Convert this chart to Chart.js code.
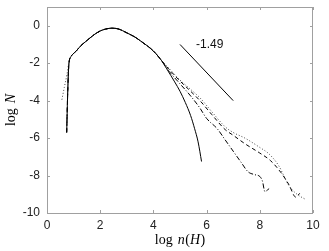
<!DOCTYPE html>
<html>
<head>
<meta charset="utf-8">
<script src="https://cdn.jsdelivr.net/npm/chart.js@4"></script>
<style>
  html, body { margin: 0; padding: 0; background: #fff; }
  #wrap { width: 329px; height: 251px; }
</style>
</head>
<body>
<div id="wrap"><canvas id="c" width="329" height="251"></canvas></div>
<script>
// shared body of all four curves
const sharedX = [0.95, 1.1, 1.25, 1.45, 1.62, 1.8, 2.0, 2.2, 2.44, 2.7, 3.0, 3.3, 3.6, 3.9, 4.1, 4.3];
const sharedY = [-1.55, -1.35, -1.1, -0.85, -0.65, -0.45, -0.28, -0.18, -0.13, -0.18, -0.38, -0.6, -0.9, -1.22, -1.5, -1.85];

// rising start (solid / dashed / dash-dot) and dotted start
const riseX = [0.74, 0.78, 0.82, 0.9];
const riseY = [-5.7, -3.5, -2.1, -1.65];
const dotRiseX = [0.56, 0.65, 0.75, 0.82, 0.9];
const dotRiseY = [-3.95, -3.3, -2.6, -2.0, -1.65];

// tails after the curves split
const solidX = [4.5, 4.8, 5.0, 5.2, 5.4, 5.55, 5.68, 5.81];
const solidY = [-2.3, -3.0, -3.5, -4.1, -4.8, -5.5, -6.2, -7.25];
const dashX = [4.6, 5.0, 5.4, 5.75, 6.2, 6.7, 7.0, 7.44, 8.0, 8.4, 8.8, 9.1, 9.35, 9.5];
const dashY = [-2.35, -2.95, -3.5, -4.0, -4.75, -5.55, -5.85, -6.3, -6.8, -7.2, -7.85, -8.5, -9.15, -8.95];
const dashDotX = [4.6, 5.0, 5.4, 5.75, 6.0, 6.4, 6.7, 7.0, 7.3, 7.56, 7.8, 8.0, 8.1, 8.19, 8.35];
const dashDotY = [-2.45, -3.1, -3.75, -4.4, -4.95, -5.5, -6.1, -6.7, -7.3, -7.8, -7.95, -8.05, -8.3, -8.85, -8.7];
const dotX = [4.6, 5.0, 5.4, 5.75, 6.2, 6.7, 7.0, 7.44, 8.0, 8.35, 8.7, 9.1, 9.4, 9.69];
const dotY = [-2.3, -2.9, -3.4, -3.85, -4.6, -5.4, -5.7, -6.0, -6.5, -6.85, -7.45, -8.55, -9.0, -9.25];

// slope guide
const slopeX = [5.0, 7.0];
const slopeY = [-1.0, -4.0];
const slopeLabel = "-1.49";

const xTicks = [0, 2, 4, 6, 8, 10];
const yTicks = [-10, -8, -6, -4, -2, 0];

const pts = (xs, ys) => xs.map((x, i) => ({ x, y: ys[i] }));
const curve = (xs0, ys0, xs1, ys1) =>
  pts(xs0.concat(sharedX, xs1), ys0.concat(sharedY, ys1));

const line = (data, extra) => Object.assign({
  data, borderColor: "#000", borderWidth: 1, pointRadius: 0,
  fill: false, cubicInterpolationMode: "monotone"
}, extra);

const frame = {
  id: "frame",
  afterDraw(chart) {
    const { ctx, chartArea: a, scales: { x, y } } = chart;
    ctx.save();
    ctx.strokeStyle = "#a0a0a0";
    ctx.lineWidth = 1;
    ctx.strokeRect(a.left + 0.5, a.top + 0.5, a.right - a.left - 1, a.bottom - a.top);
    ctx.beginPath();
    x.ticks.forEach(t => {
      const px = Math.round(x.getPixelForValue(t.value)) + 0.5;
      ctx.moveTo(px, a.bottom); ctx.lineTo(px, a.bottom - 3);
      ctx.moveTo(px, a.top); ctx.lineTo(px, a.top + 3);
    });
    y.ticks.forEach(t => {
      const py = Math.round(y.getPixelForValue(t.value)) + 0.5;
      ctx.moveTo(a.left, py); ctx.lineTo(a.left + 3, py);
      ctx.moveTo(a.right, py); ctx.lineTo(a.right - 3, py);
    });
    ctx.stroke();

    // slope label
    ctx.fillStyle = "#111";
    ctx.font = "12px 'Liberation Sans', Arial, sans-serif";
    ctx.textAlign = "left";
    ctx.textBaseline = "middle";
    ctx.fillText(slopeLabel, x.getPixelForValue(5.6), y.getPixelForValue(-1.0));

    // axis titles, mixed upright / italic serif
    const parts = (list) => {
      let w = 0;
      list.forEach(p => { ctx.font = p[1]; w += ctx.measureText(p[0]).width + (p[2] || 0); });
      return w;
    };
    const draw = (list, x0, yb) => {
      let cx = x0;
      list.forEach(p => { ctx.font = p[1]; ctx.fillText(p[0], cx, yb); cx += ctx.measureText(p[0]).width + (p[2] || 0); });
    };
    const up = "14px 'Liberation Serif', 'Times New Roman', serif";
    const it = "italic 14px 'Liberation Serif', 'Times New Roman', serif";
    ctx.fillStyle = "#000";
    ctx.textBaseline = "alphabetic";
    const xt = [["log", up, 5], ["n", it, 0.5], ["(", up, 0], ["H", it, 0.5], [")", up, 0]];
    const xw = parts(xt);
    draw(xt, (a.left + a.right) / 2 - xw / 2, 244);

    const yt = [["log", up, 5], ["N", it, 0]];
    const yw = parts(yt);
    ctx.translate(15, (a.top + a.bottom) / 2);
    ctx.rotate(-Math.PI / 2);
    draw(yt, -yw / 2, 0);
    ctx.restore();
  }
};

new Chart(document.getElementById("c"), {
  type: "line",
  data: {
    datasets: [
      line(curve(riseX, riseY, solidX, solidY), {}),
      line(curve(riseX, riseY, dashX, dashY), { borderDash: [4, 3] }),
      line(curve(riseX, riseY, dashDotX, dashDotY), { borderDash: [5, 2, 1, 2] }),
      line(curve(dotRiseX, dotRiseY, dotX, dotY), { borderDash: [1, 2], borderColor: "#444" }),
      line(pts(slopeX, slopeY), { cubicInterpolationMode: "default" })
    ]
  },
  plugins: [frame],
  options: {
    responsive: false,
    animation: false,
    layout: { padding: { left: 0, top: 7, right: 16, bottom: 0 } },
    plugins: { legend: { display: false }, tooltip: { enabled: false } },
    scales: {
      x: {
        type: "linear", min: 0, max: 10,
        afterBuildTicks: s => { s.ticks = xTicks.map(v => ({ value: v })); },
        afterFit: s => { s.height = 38; s.paddingLeft = 0; s.paddingRight = 0; },
        grid: { display: false, drawTicks: false },
        border: { display: false },
        ticks: { padding: 5, color: "#222", font: { family: "'Liberation Sans', Arial, sans-serif", size: 12 } }
      },
      y: {
        type: "linear", min: -10, max: 1,
        afterBuildTicks: s => { s.ticks = yTicks.map(v => ({ value: v })); },
        afterFit: s => { s.width = 47; s.paddingTop = 0; s.paddingBottom = 0; },
        grid: { display: false, drawTicks: false },
        border: { display: false },
        ticks: { padding: 7, color: "#222", font: { family: "'Liberation Sans', Arial, sans-serif", size: 12 } }
      }
    }
  }
});
</script>
</body>
</html>
